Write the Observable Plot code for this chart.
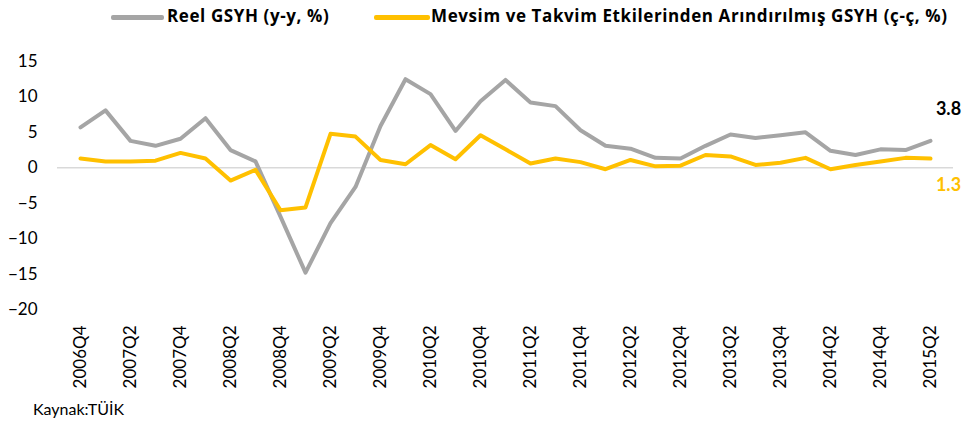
<!DOCTYPE html>
<html>
<head>
<meta charset="utf-8">
<script src="https://cdn.jsdelivr.net/npm/d3@7"></script>
<script src="https://cdn.jsdelivr.net/npm/@observablehq/plot@0.6"></script>
<style>
  body { margin: 0; background: #fff; font-family: Lato, "Open Sans", sans-serif; }
  #wrap { position: relative; width: 967px; height: 423px; }
  #legend { position: relative; height: 36px; }
  .sw { position: absolute; top: 15px; height: 5px; border-radius: 2px; }
  .lt { position: absolute; top: 4px; font-family: "Open Sans", Lato, sans-serif; font-weight: bold; font-size: 17px; letter-spacing: 0.6px; color: #000; white-space: nowrap; }
  #caption { position: absolute; left: 33px; top: 399px; font-size: 16px; color: #000; }
</style>
</head>
<body>
<div id="wrap">
  <div id="legend"></div>
  <div id="chart"></div>
  <div id="caption"></div>
</div>
<script>
const quarters = [
  "2006Q4",
  "2007Q1","2007Q2","2007Q3","2007Q4",
  "2008Q1","2008Q2","2008Q3","2008Q4",
  "2009Q1","2009Q2","2009Q3","2009Q4",
  "2010Q1","2010Q2","2010Q3","2010Q4",
  "2011Q1","2011Q2","2011Q3","2011Q4",
  "2012Q1","2012Q2","2012Q3","2012Q4",
  "2013Q1","2013Q2","2013Q3","2013Q4",
  "2014Q1","2014Q2","2014Q3","2014Q4",
  "2015Q1","2015Q2"
];
const reelGSYH = [
  5.7,
  8.1, 3.8, 3.1, 4.1,
  7.0, 2.5, 0.9, -6.9,
  -14.8, -7.8, -2.7, 5.9,
  12.5, 10.4, 5.2, 9.4,
  12.4, 9.2, 8.7, 5.3,
  3.1, 2.7, 1.4, 1.3,
  3.1, 4.7, 4.2, 4.6,
  5.0, 2.4, 1.8, 2.6,
  2.5, 3.8
];
const mevsimGSYH = [
  1.3,
  0.9, 0.9, 1.0, 2.1,
  1.3, -1.8, -0.3, -6.0,
  -5.6, 4.8, 4.4, 1.1,
  0.5, 3.2, 1.2, 4.6,
  2.6, 0.6, 1.3, 0.8,
  -0.2, 1.1, 0.2, 0.3,
  1.8, 1.6, 0.4, 0.7,
  1.4, -0.2, 0.4, 0.9,
  1.4, 1.3
];
const xTickLabels = [
  "2006Q4","2007Q2","2007Q4","2008Q2","2008Q4","2009Q2","2009Q4","2010Q2","2010Q4",
  "2011Q2","2011Q4","2012Q2","2012Q4","2013Q2","2013Q4","2014Q2","2014Q4","2015Q2"
];
const yTicks = [15, 10, 5, 0, -5, -10, -15, -20];
const seriesNames = ["Reel GSYH (y-y, %)", "Mevsim ve Takvim Etkilerinden Arındırılmış GSYH (ç-ç, %)"];
const colors = ["#A5A5A5", "#FFC000"];
const captionText = "Kaynak:TÜİK";

// legend
const legend = document.getElementById("legend");
const legendLayout = [
  {sw: 111, swW: 53, tx: 167},
  {sw: 374, swW: 56, tx: 431}
];
seriesNames.forEach((name, i) => {
  const s = document.createElement("div");
  s.className = "sw";
  s.style.left = legendLayout[i].sw + "px";
  s.style.width = legendLayout[i].swW + "px";
  s.style.background = colors[i];
  legend.appendChild(s);
  const t = document.createElement("div");
  t.className = "lt";
  t.style.left = legendLayout[i].tx + "px";
  t.textContent = name;
  legend.appendChild(t);
});
document.getElementById("caption").textContent = captionText;

const reelData = quarters.map((q, i) => ({q, v: reelGSYH[i]}));
const mevsimData = quarters.map((q, i) => ({q, v: mevsimGSYH[i]}));
const lastReel = [reelData[reelData.length - 1]];
const lastMevsim = [mevsimData[mevsimData.length - 1]];

const chart = Plot.plot({
  width: 967,
  height: 359,
  marginTop: 25,
  marginBottom: 86,
  marginLeft: 57,
  marginRight: 14,
  style: {fontFamily: "Lato, 'Open Sans', sans-serif", background: "#fff", color: "#000"},
  x: {type: "point", domain: quarters, padding: 0.5, label: null},
  y: {domain: [-20, 15], label: null},
  marks: [
    Plot.ruleY([0], {stroke: "#D9D9D9", strokeWidth: 1.5}),
    Plot.axisY({ticks: yTicks, tickSize: 0, tickPadding: 20, fontSize: 17, label: null}),
    Plot.axisX({ticks: xTickLabels, tickSize: 0, tickPadding: 16, tickRotate: -90, fontSize: 17, label: null}),
    Plot.line(reelData, {x: "q", y: "v", stroke: colors[0], strokeWidth: 4, strokeLinejoin: "round", strokeLinecap: "round"}),
    Plot.line(mevsimData, {x: "q", y: "v", stroke: colors[1], strokeWidth: 4, strokeLinejoin: "round", strokeLinecap: "round"}),
    Plot.text(lastReel, {x: "q", y: "v", text: d => d.v.toFixed(1), dx: 18, dy: -32, fill: "#000", fontWeight: "bold", fontSize: 18}),
    Plot.text(lastMevsim, {x: "q", y: "v", text: d => d.v.toFixed(1), dx: 18, dy: 27, fill: colors[1], fontWeight: "bold", fontSize: 18})
  ]
});
document.getElementById("chart").appendChild(chart);
</script>
</body>
</html>
